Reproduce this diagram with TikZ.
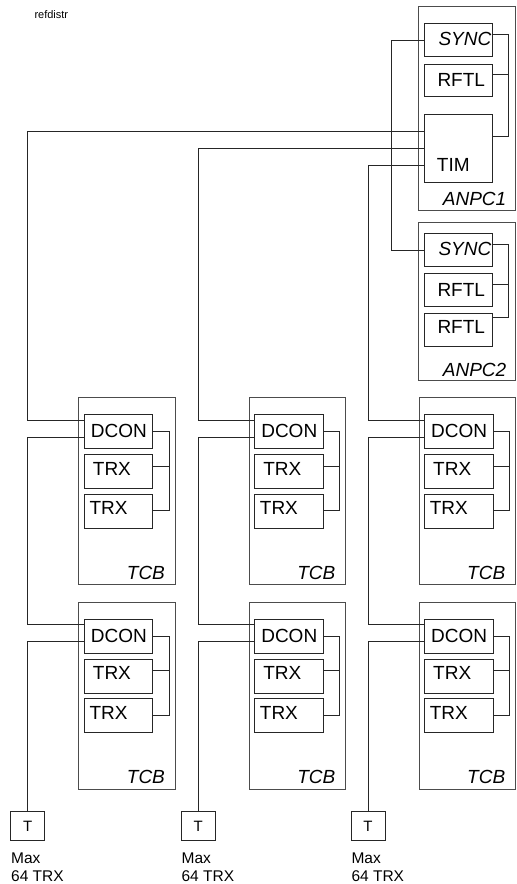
\documentclass[tikz,border=0pt]{standalone}
\usepackage{fontspec}
\setmainfont{Liberation Sans}
\begin{document}
\begin{tikzpicture}[x=1pt,y=-1pt]
\tikzset{
  outerbox/.style={draw=black!70, line width=0.9pt, anchor=north west, inner sep=0pt, outer sep=0pt, minimum width=97pt},
  innerbox/.style={draw=black!85, line width=0.9pt, anchor=north west, inner sep=0pt, outer sep=0pt, minimum width=68.5pt, minimum height=34pt},
  tbox/.style={draw=black!85, line width=0.9pt, inner sep=0pt, outer sep=0pt, minimum width=34pt, minimum height=28.5pt, font=\fontsize{15}{18}\selectfont},
  big/.style={font=\fontsize{19}{22}\selectfont, inner sep=0pt, anchor=base west},
  bigit/.style={font=\fontsize{19}{22}\selectfont\itshape, inner sep=0pt, anchor=base west},
  small/.style={font=\fontsize{15.5}{18}\selectfont, inner sep=0pt, anchor=base west},
  tiny/.style={font=\fontsize{11}{13}\selectfont, inner sep=0pt, anchor=base west},
  wire/.style={draw=black!85, line width=0.9pt},
}
\useasboundingbox (0,0) rectangle (517,884);

\node[tiny] (title) at (34.3,18) {refdistr};

% ANPC1
\node[outerbox, minimum height=204pt] (anpc1) at (418.7,6) {};
\node[innerbox, minimum height=33.4pt] (sync1) at (424.3,23.3) {};
\node[innerbox, minimum height=32.7pt] (rftl1) at (424.3,64) {};
\node[innerbox, minimum height=68.4pt] (tim) at (424.3,114.3) {};
\node[bigit] (tsync1) at (438.3,45.7) {SYNC};
\node[big] (trftl1) at (437.3,86) {RFTL};
\node[big] (ttim) at (436.7,171) {TIM};
\node[bigit] (tanpc1) at (442.7,205) {ANPC1};

% ANPC2
\node[outerbox, minimum height=158.4pt] (anpc2) at (418.7,222.3) {};
\node[innerbox, minimum height=33.4pt] (sync2) at (424.3,233.3) {};
\node[innerbox, minimum height=33.4pt] (rftl2a) at (424.3,273.3) {};
\node[innerbox, minimum height=33.4pt] (rftl2b) at (424.3,313.3) {};
\node[bigit] (tsync2) at (438.3,255.7) {SYNC};
\node[big] (trftl2a) at (437.3,296) {RFTL};
\node[big] (trftl2b) at (437.3,333.3) {RFTL};
\node[bigit] (tanpc2) at (442.7,376) {ANPC2};

% ANPC buses
\draw[wire] (sync1.east |- 0,34) -- (508.3,34) -- (508.3,136) -- (tim.east |- 0,136);
\draw[wire] (rftl1.east |- 0,74) -- (508.3,74);
\draw[wire] (sync2.east |- 0,244) -- (508.3,244) -- (508.3,317.3) -- (rftl2b.east |- 0,317.3);
\draw[wire] (rftl2a.east |- 0,284) -- (508.3,284);
\draw[wire] (sync1.west |- 0,40) -- (391,40) -- (391,250.7) -- (sync2.west |- 0,250.7);

\foreach \c/\dx/\ty in {1/0/131.3,2/170.4/148.3,3/340.3/165.3}{
  \foreach \r/\dy in {1/0,2/204.7}{
    \node[outerbox, minimum width=96.6pt, minimum height=187pt] (tcb\c\r) at (78.7+\dx,397.3+\dy) {};
    \node[innerbox] (dcon\c\r) at (84.3+\dx,414.3+\dy) {};
    \node[innerbox] (trxa\c\r) at (84.3+\dx,454.3+\dy) {};
    \node[innerbox] (trxb\c\r) at (84.3+\dx,494+\dy) {};
    \node[big] (tdcon\c\r) at (90.7+\dx,437.5+\dy) {DCON};
    \node[big] (ttrxa\c\r) at (92.7+\dx,475+\dy) {TRX};
    \node[big] (ttrxb\c\r) at (89.3+\dx,514.5+\dy) {TRX};
    \node[bigit] (ttcb\c\r) at (126.7+\dx,579+\dy) {TCB};
    \draw[wire] (dcon\c\r.east |- 0,431.7+\dy) -- (169.3+\dx,431.7+\dy) -- (169.3+\dx,510.7+\dy) -- (trxb\c\r.east |- 0,510.7+\dy);
    \draw[wire] (trxa\c\r.east |- 0,466+\dy) -- (169.3+\dx,466+\dy);
  }
  \node[tbox] (tb\c) at (27.7+\dx,826) {T};
  \node[small] (max\c) at (11+\dx,863.3) {Max};
  \node[small] (cnt\c) at (11+\dx,881) {64 TRX};
  \draw[wire] (tim.west |- 0,\ty) -- (27.7+\dx,\ty) -- (27.7+\dx,420.3) -- (dcon\c1.west |- 0,420.3);
  \draw[wire] (dcon\c1.west |- 0,437.3) -- (27.7+\dx,437.3) -- (27.7+\dx,624) -- (dcon\c2.west |- 0,624);
  \draw[wire] (dcon\c2.west |- 0,641.3) -- (27.7+\dx,641.3) -- (tb\c.north);
}
\end{tikzpicture}
\end{document}
